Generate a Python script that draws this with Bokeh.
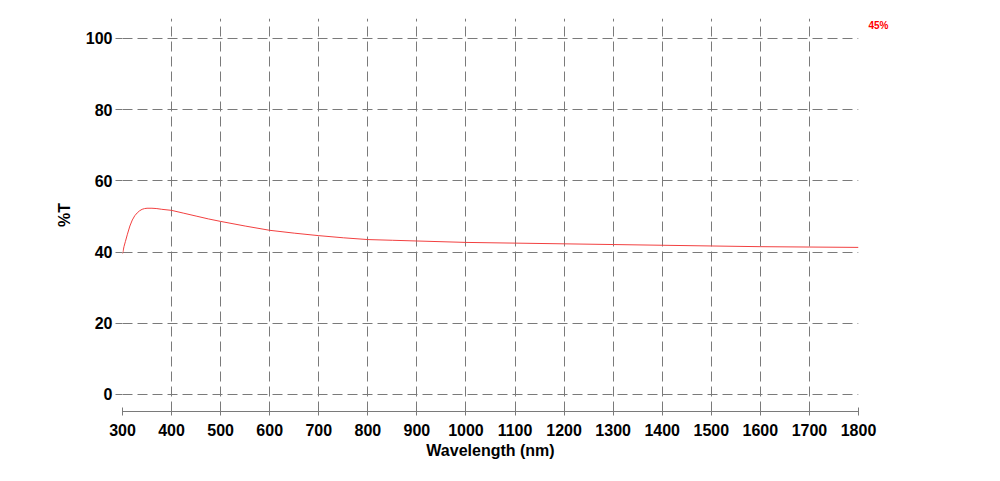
from bokeh.plotting import figure
from bokeh.models import Range1d, FixedTicker, LinearAxis
from bokeh.embed import file_html
from bokeh.resources import INLINE

wavelength = [300, 303, 306, 310, 315, 320, 325, 330, 335, 340, 345, 350, 360, 370, 380,
              400, 425, 450, 475, 500, 550, 600, 650, 700, 750, 800, 850, 900, 1000,
              1100, 1200, 1300, 1400, 1500, 1600, 1700, 1800]
transmittance = [39.5, 41.5, 43.0, 45.0, 47.3, 49.0, 50.2, 51.0, 51.6, 52.0, 52.2, 52.3,
                 52.3, 52.2, 52.0, 51.7, 50.9, 50.1, 49.3, 48.6, 47.3, 46.1, 45.3, 44.6,
                 44.0, 43.5, 43.3, 43.1, 42.7, 42.5, 42.3, 42.1, 41.9, 41.7, 41.5, 41.4, 41.3]
x_ticks = list(range(300, 1801, 100))
y_ticks = [0, 20, 40, 60, 80, 100]
legend_text = "45%"
legend_y = 103.6

FONT = "Liberation Sans"
GRID = "#7a7a7a"

p = figure(width=992, height=473, output_backend="svg", toolbar_location=None,
           x_range=Range1d(300, 1800), y_range=Range1d(-4.8, 105.6),
           min_border_left=122, min_border_right=134, min_border_top=18, min_border_bottom=62)
p.outline_line_color = None

p.line(wavelength, transmittance, line_color="#f24040", line_width=1.0)

# x axis
xa = p.xaxis[0]
xa.ticker = FixedTicker(ticks=x_ticks)
xa.axis_line_color = GRID
xa.major_tick_line_color = GRID
xa.major_tick_in = 4
xa.major_tick_out = 4
xa.minor_tick_line_color = None
xa.major_label_text_font = FONT
xa.major_label_text_font_style = "bold"
xa.major_label_text_font_size = "16px"
xa.major_label_text_color = "black"
xa.major_label_standoff = 8
xa.axis_label = "Wavelength (nm)"
xa.axis_label_text_font = FONT
xa.axis_label_text_font_style = "bold"
xa.axis_label_text_font_size = "16px"
xa.axis_label_text_color = "black"
xa.axis_label_standoff = 3

# y axis
ya = p.yaxis[0]
ya.ticker = FixedTicker(ticks=y_ticks)
ya.axis_line_color = None
ya.major_tick_line_color = GRID
ya.major_tick_in = 0
ya.major_tick_out = 7
ya.minor_tick_line_color = None
ya.major_label_text_font = FONT
ya.major_label_text_font_style = "bold"
ya.major_label_text_font_size = "16px"
ya.major_label_text_color = "black"
ya.major_label_standoff = 3
ya.axis_label = "%T"
ya.axis_label_text_font = FONT
ya.axis_label_text_font_style = "bold"
ya.axis_label_text_font_size = "16px"
ya.axis_label_text_color = "black"
ya.axis_label_standoff = 10

# small red "45%" text to the right of the frame (as a right-side tick label)
ra = LinearAxis(ticker=FixedTicker(ticks=[legend_y]),
                major_label_overrides={legend_y: legend_text})
ra.axis_line_color = None
ra.major_tick_line_color = None
ra.minor_tick_line_color = None
ra.major_tick_out = 0
ra.major_tick_in = 0
ra.major_label_standoff = 10
ra.major_label_text_color = "red"
ra.major_label_text_font = FONT
ra.major_label_text_font_style = "bold"
ra.major_label_text_font_size = "10px"
p.add_layout(ra, "right")

# grids
p.xgrid.ticker = FixedTicker(ticks=x_ticks[:-1])
p.ygrid.ticker = FixedTicker(ticks=y_ticks)
for g in (p.xgrid[0], p.ygrid[0]):
    g.grid_line_color = GRID
    g.grid_line_dash = "10 5"
    g.grid_line_width = 1

open("out.html", "w").write(file_html(p, INLINE))
